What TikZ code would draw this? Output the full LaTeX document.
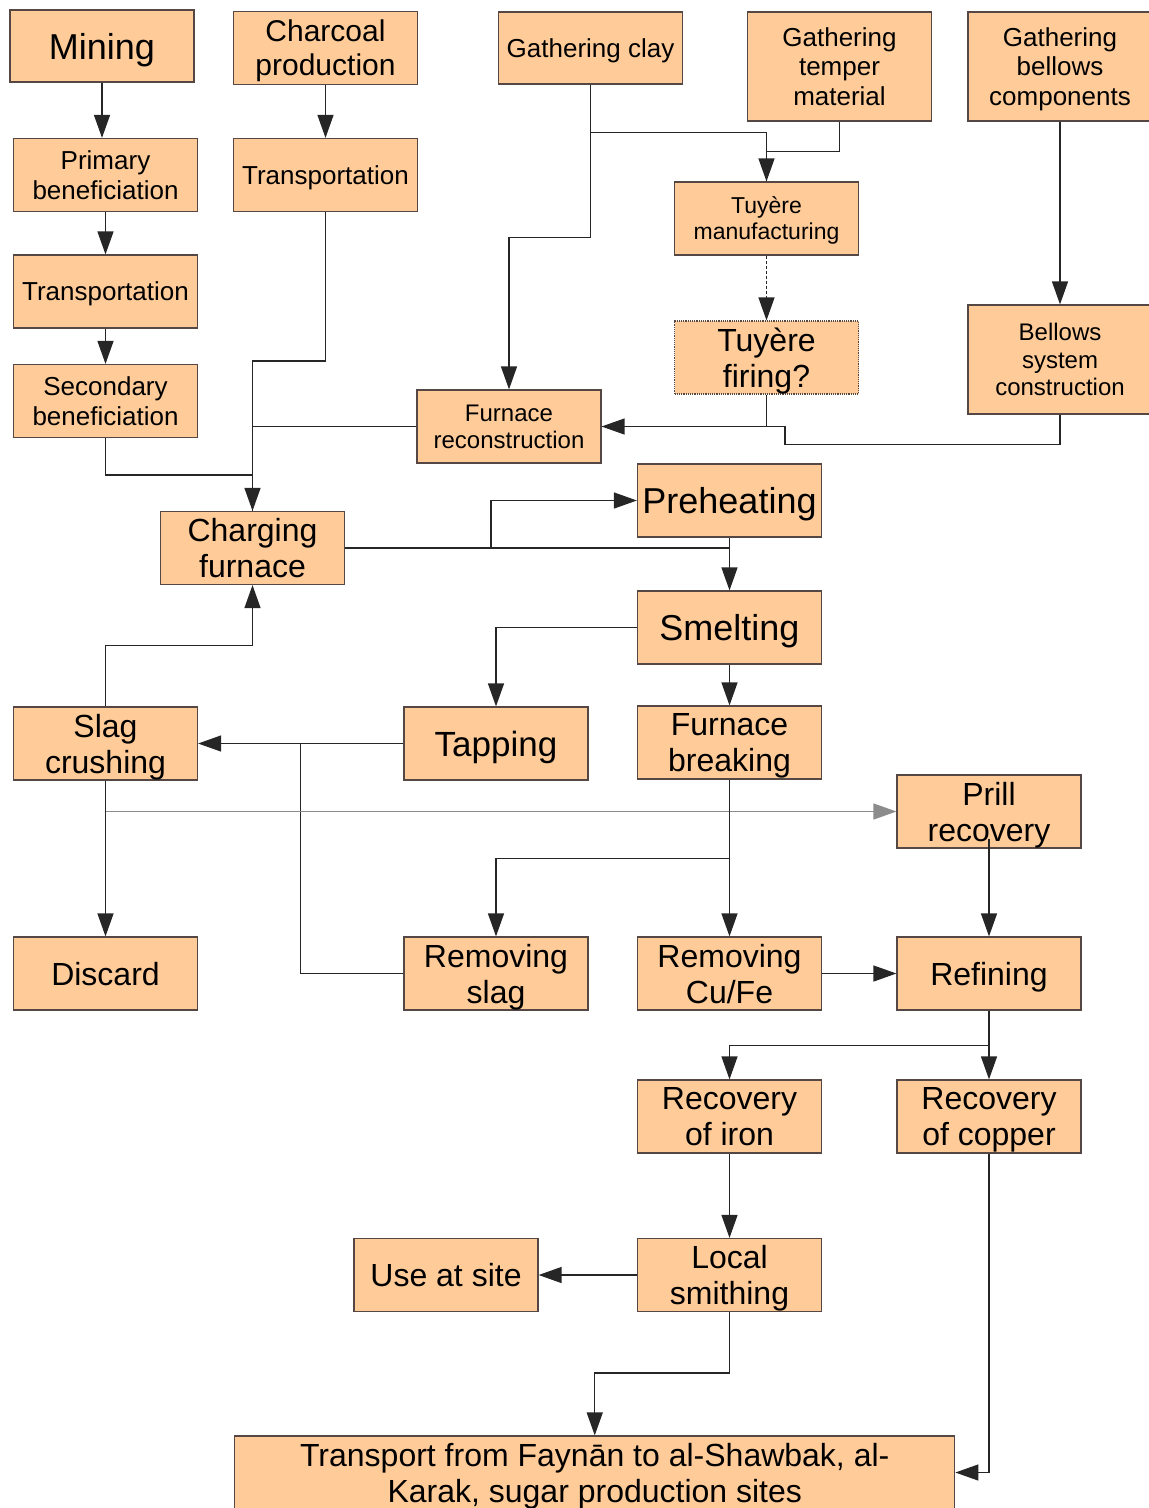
\documentclass[tikz,border=0pt]{standalone}
\usepackage{fontspec}
\setmainfont{Liberation Sans}
\usetikzlibrary{arrows.meta}

\definecolor{ore}{RGB}{255,204,153}
\definecolor{boxline}{RGB}{85,72,68}
\definecolor{prillgray}{RGB}{140,140,140}

\begin{document}
\begin{tikzpicture}[x=1pt, y=-1pt, >={Triangle[length=23pt, width=16pt]},
    proc/.style={rectangle, draw=boxline, line width=1.2pt, fill=ore,
        minimum width=184pt, minimum height=73pt, inner sep=0pt,
        align=center, text depth=0pt, font=\fontsize{32}{36}\selectfont},
    fbig/.style={font=\fontsize{36}{40}\selectfont},
    fsmall/.style={font=\fontsize{26}{29.5}\selectfont},
    ftiny/.style={font=\fontsize{24}{27.5}\selectfont},
    conn/.style={draw=black!85, line width=1.3pt}]
    \useasboundingbox (0,0) rectangle (1149,1508);

    % gathering raw materials
    \node[proc, fbig, minimum height=72pt] (mining) at (102,46) {Mining};
    \node[proc, font=\fontsize{30}{34}\selectfont] (charcoal) at (325.5,48) {Charcoal\\production};
    \node[proc, fsmall, minimum height=72pt] (clay) at (590.5,48) {Gathering clay};
    \node[proc, fsmall, minimum height=109pt] (temper) at (839.5,66.5) {Gathering\\temper\\material};
    \node[proc, fsmall, minimum height=109pt] (bellcomp) at (1060,66.5) {Gathering\\bellows\\components};

    \node[proc, fsmall] (prim) at (105.5,175) {Primary\\beneficiation};
    \node[proc, fsmall] (trans2) at (325.5,175) {Transportation};
    \node[proc, font=\fontsize{23}{26}\selectfont] (tuymfg) at (766.5,218.5) {Tuyère\\manufacturing};
    \node[proc, fsmall] (trans1) at (105.5,291.5) {Transportation};
    \node[proc, densely dotted] (tuyfire) at (766.5,357.5) {Tuyère\\firing?};
    \node[proc, ftiny, minimum height=109pt] (bellsys) at (1060,359.5) {Bellows\\system\\construction};
    \node[proc, fsmall] (sec) at (105.5,401) {Secondary\\beneficiation};
    \node[proc, ftiny] (furnrec) at (509,426.5) {Furnace\\reconstruction};

    % furnace operation
    \node[proc, fbig] (preheat) at (729.5,500.5) {Preheating};
    \node[proc] (charging) at (252.5,548) {Charging\\furnace};
    \node[proc, fbig] (smelting) at (729.5,627.5) {Smelting};
    \node[proc] (slagcr) at (105.5,743.5) {Slag\\crushing};
    \node[proc, font=\fontsize{35}{39}\selectfont] (tapping) at (496,743.5) {Tapping};
    \node[proc] (fbreak) at (729.5,742.5) {Furnace\\breaking};
    \node[proc] (prill) at (989,811.5) {Prill\\recovery};
    \node[proc] (discard) at (105.5,973.5) {Discard};
    \node[proc] (rmslag) at (496,973.5) {Removing\\slag};
    \node[proc] (rmcufe) at (729.5,973.5) {Removing\\Cu/Fe};
    \node[proc] (refining) at (989,973.5) {Refining};

    % products
    \node[proc] (ironrec) at (729.5,1116.5) {Recovery\\of iron};
    \node[proc] (copperrec) at (989,1116.5) {Recovery\\of copper};
    \node[proc] (useatsite) at (446,1275) {Use at site};
    \node[proc] (smith) at (729.5,1275) {Local\\smithing};
    \node[proc, minimum width=720pt] (transport) at (594.75,1472.5)
        {Transport from Faynān to al-Shawbak, al-\\Karak, sugar production sites};

    \coordinate (bjoin) at (785,426.5);

    % ore and fuel
    \draw[conn, ->] (mining.south) -- (mining.south |- prim.north);
    \draw[conn, ->] (prim) -- (trans1);
    \draw[conn, ->] (trans1) -- (sec);
    \draw[conn, ->] (charcoal) -- (trans2);
    \draw[conn, ->] (trans2.south) -- ++(0,149) -| (charging.north);
    \draw[conn] (sec.south) -- ++(0,37) -| (charging.north);
    \draw[conn] (furnrec.west) -- (furnrec.west -| charging.north);

    % furnace, tuyeres and bellows
    \draw[conn, ->] (clay.south) -- ++(0,153) -| (furnrec.north);
    \draw[conn, ->] (clay.south) ++(0,48) -| (tuymfg.north);
    \draw[conn] (temper.south) -- ++(0,30) -| (tuymfg.north);
    \draw[conn, ->, dash pattern=on 3pt off 2pt] (tuymfg) -- (tuyfire);
    \draw[conn, ->] (tuyfire.south) |- (furnrec.east);
    \draw[conn, ->] (bellcomp) -- (bellsys);
    \draw[conn] (bellsys.south) -- ++(0,30) -| (bjoin) -- (furnrec.east);

    % smelting
    \draw[conn, ->] (charging.east) -| (smelting.north);
    \draw[conn, ->] (charging.east) ++(146,0) |- (preheat.west);
    \draw[conn] (preheat.south) -- (preheat.south |- charging.east);
    \draw[conn, ->] (smelting) -- (fbreak);
    \draw[conn, ->] (smelting.west) -| (tapping.north);
    \draw[conn, ->] (tapping) -- (slagcr);
    \draw[conn] (rmslag.west) -- ++(-103,0) |- (tapping.west);
    \draw[conn, ->] (slagcr.north) -- ++(0,-61) -| (charging.south);
    \draw[conn, ->] (slagcr) -- (discard);
    \draw[conn, draw=prillgray, ->, >={Triangle[length=23pt, width=16pt, fill=prillgray]}]
        (slagcr.south |- prill.west) -- (prill.west);
    \draw[conn, ->] (fbreak) -- (rmcufe);
    \draw[conn, ->] (fbreak.south) ++(0,79) -| (rmslag.north);
    \draw[conn, ->] ([yshift=10pt]prill.south) -- (refining.north);
    \draw[conn, ->] (rmcufe) -- (refining);

    % metal
    \draw[conn, ->] (refining.south) -- ++(0,35) -| (ironrec.north);
    \draw[conn, ->] (refining) -- (copperrec);
    \draw[conn, ->] (ironrec) -- (smith);
    \draw[conn, ->] (smith) -- (useatsite);
    \draw[conn, ->] (smith.south) -- ++(0,61) -| (transport.north);
    \draw[conn, ->] (copperrec.south) |- (transport.east);
\end{tikzpicture}
\end{document}
